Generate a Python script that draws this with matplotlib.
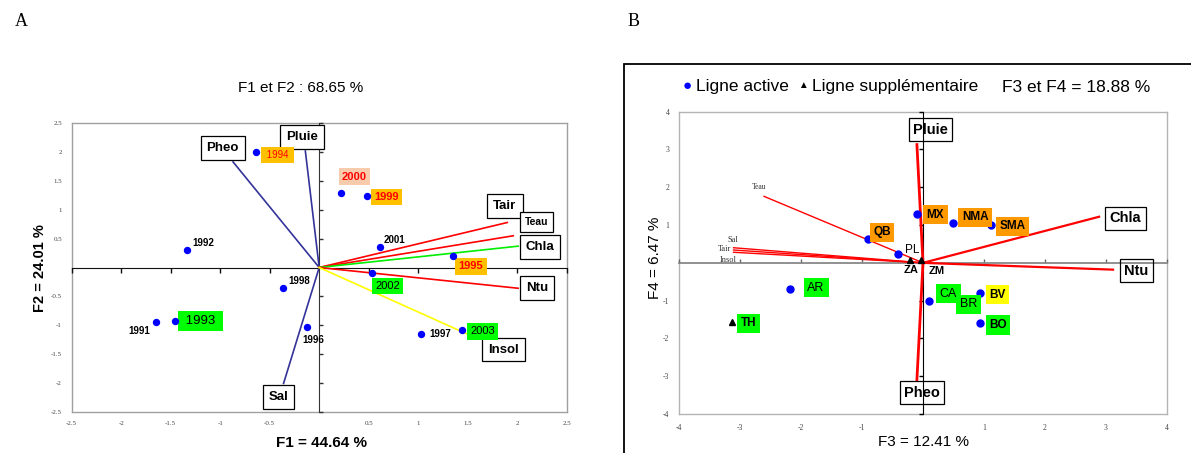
import matplotlib.pyplot as plt
from matplotlib.patches import Rectangle

plt.rcParams['font.family'] = ['Liberation Sans', 'DejaVu Sans']

W, H = 1191, 453

# ---------- panel A : F1 x F2 ----------
years = ['1991', '1992', '1993', '1994', '1995', '1996', '1997',
         '1998', '1999', '2000', '2001', '2002', '2003']
f1 = [-1.65, -1.34, -1.46, -0.64, 1.35, -0.12, 1.03,
      -0.37, 0.48, 0.22, 0.61, 0.53, 1.44]
f2 = [-0.94, 0.31, -0.92, 2.01, 0.20, -1.04, -1.16,
      -0.36, 1.24, 1.30, 0.36, -0.09, -1.08]

vars_a = ['Pheo', 'Pluie', 'Sal', 'Tair', 'Teau', 'Chla', 'Ntu', 'Insol']
vec_f1 = [-0.87, -0.14, -0.36, 1.90, 1.96, 2.01, 2.01, 1.49]
vec_f2 = [1.83, 2.02, -2.01, 0.78, 0.55, 0.37, -0.36, -1.15]

# ---------- panel B : F3 x F4 ----------
sites = ['QB', 'PL', 'MX', 'NMA', 'SMA', 'AR', 'CA', 'BR', 'BV', 'BO']
f3 = [-0.91, -0.41, -0.10, 0.50, 1.12, -2.18, 0.10, 0.75, 0.94, 0.94]
f4 = [0.63, 0.24, 1.30, 1.06, 1.01, -0.69, -1.00, -1.10, -0.80, -1.60]

sites_sup = ['ZA', 'ZM', 'TH']
f3_sup = [-0.21, -0.03, -3.14]
f4_sup = [0.07, 0.07, -1.57]

vars_b = ['Pluie', 'Pheo', 'Chla', 'Ntu', 'Teau', 'Sal', 'Tair', 'Insol']
vec_f3 = [-0.10, -0.10, 2.89, 3.12, -2.61, -3.11, -3.11, -3.11]
vec_f4 = [3.13, -3.09, 1.22, -0.18, 1.76, 0.40, 0.34, 0.28]

# label styling: (offset pts, facecolor, text colour, weight, size)
ORANGE = '#ffc000'
year_style = {
    '1991': ((-12, -7), None, 'black', 'bold', 7),
    '1992': ((12, 4.6), None, 'black', 'bold', 7),
    '1993': ((18.5, 0), '#00ff00', 'black', 'normal', 9.5),
    '1994': ((15.7, -2.7), ORANGE, 'red', 'normal', 7),
    '1995': ((13, -7.5), ORANGE, 'red', 'bold', 8),
    '1996': ((4, -9), None, 'black', 'bold', 7),
    '1997': ((13.7, 0), None, 'black', 'bold', 7),
    '1998': ((11.8, 5.3), None, 'black', 'bold', 7),
    '1999': ((14.5, -0.7), ORANGE, 'red', 'bold', 8),
    '2000': ((9.7, 11.5), '#f8cbad', 'red', 'bold', 8),
    '2001': ((10.8, 4.9), None, 'black', 'bold', 7),
    '2002': ((11.5, -9.5), '#00ff00', 'black', 'normal', 8),
    '2003': ((14.8, -1), '#00ff00', 'black', 'normal', 8),
}
var_a_style = {
    'Pheo': ((-7.4, 10.1), '#333399', 9.5),
    'Pluie': ((-2.2, 10.1), '#333399', 9.5),
    'Sal': ((-3.6, -9.8), '#333399', 9.5),
    'Tair': ((-1.7, 12), 'red', 9.5),
    'Teau': ((16.8, 9.9), 'red', 7.5),
    'Chla': ((15.6, -0.5), '#00ee00', 9.5),
    'Ntu': ((13.5, 0), 'red', 9.5),
    'Insol': ((26.6, -11.3), 'yellow', 9.5),
}
site_style = {
    'QB': ((10.4, 4.9), '#ff9900', 'bold', 8.5),
    'PL': ((9.9, 2.6), None, 'normal', 8.5),
    'MX': ((13.2, -0.7), '#ff9900', 'bold', 8.5),
    'NMA': ((15.6, 4), '#ff9900', 'bold', 8.5),
    'SMA': ((15.5, -1.1), '#ff9900', 'bold', 8.5),
    'AR': ((18.7, 0.9), '#00ff00', 'normal', 9),
    'CA': ((14, 5), '#00ff00', 'normal', 9),
    'BR': ((0, 0), '#00ff00', 'normal', 9),
    'BV': ((12.4, -1.2), '#ffff00', 'bold', 8.5),
    'BO': ((12.7, -1.2), '#00ff00', 'bold', 8.5),
    'ZA': ((0.7, -7.2), None, 'bold', 8),
    'ZM': ((11.3, -7.9), None, 'bold', 8),
    'TH': ((12.1, -0.9), '#00ff00', 'bold', 8.5),
}
var_b_style = {
    'Pluie': ((9.9, 10.8), 2.0, 'box', 10.5),
    'Pheo': ((3.6, -9.4), 2.0, 'box', 10.5),
    'Chla': ((18.9, -1), 1.6, 'box', 10.5),
    'Ntu': ((16.7, -0.7), 1.6, 'box', 10.5),
    'Teau': ((-3.4, 6.8), 1.0, 'center', 5.5),
    'Sal': ((3.4, 5.5), 1.0, 'right', 6),
    'Tair': ((-1.9, 0.9), 1.0, 'right', 6),
    'Insol': ((2.4, -5.3), 1.0, 'right', 6),
}


def frame_axes(rect, lim, step, tick_size, frame_col):
    ax = fig.add_axes(rect)
    ax.set_xlim(-lim, lim)
    ax.set_ylim(-lim, lim)
    ticks = [i * step - lim for i in range(int(round(2 * lim / step)) + 1)]
    ax.set_xticks(ticks)
    ax.set_yticks(ticks)
    ax.set_xticklabels(['%g' % t for t in ticks])
    ax.set_yticklabels(['%g' % t for t in ticks])
    ax.tick_params(length=0, pad=7, labelsize=tick_size, labelcolor='#444444')
    for lab in ax.get_xticklabels() + ax.get_yticklabels():
        lab.set_family(['Liberation Serif', 'DejaVu Serif'])
    for s in ax.spines.values():
        s.set_color(frame_col)
        s.set_linewidth(1.0)
    # overlay with cross axes at zero
    axc = fig.add_axes(rect, sharex=ax, sharey=ax)
    axc.patch.set_visible(False)
    axc.spines['left'].set_position('zero')
    axc.spines['bottom'].set_position('zero')
    axc.spines['top'].set_visible(False)
    axc.spines['right'].set_visible(False)
    axc.tick_params(labelleft=False, labelbottom=False)
    return ax, axc


fig = plt.figure(figsize=(W / 100, H / 100), dpi=100)

fig.text(15 / W, 1 - 22 / H, 'A', family=['Liberation Serif'], fontsize=13, va='center')
fig.text(628 / W, 1 - 22 / H, 'B', family=['Liberation Serif'], fontsize=13, va='center')

# ---- A ----
axA, ca = frame_axes([71.7 / W, 1 - 411.7 / H, 495 / W, 288.4 / H], 2.5, 0.5, 5, '#a0a0a0')
ca.spines['left'].set_color('#333333')
ca.spines['bottom'].set_color('#111111')
ca.tick_params(axis='x', direction='out', length=3.5, width=1, color='#111111')
ca.tick_params(axis='y', direction='in', length=3, width=1, color='#333333')
ca.set_xticks([t for t in axA.get_xticks() if t != 0])
ca.set_yticks([t for t in axA.get_yticks() if t != 0])

for name, x, y in zip(vars_a, vec_f1, vec_f2):
    off, col, fs = var_a_style[name]
    ca.plot([0, x], [0, y], color=col, lw=1.2, zorder=3)
    ca.annotate(name, (x, y), xytext=off, textcoords='offset points',
                ha='center', va='center', fontsize=fs, fontweight='bold', zorder=5,
                bbox=dict(boxstyle='square,pad=0.45', fc='white', ec='black', lw=0.9))

ca.plot(f1, f2, 'o', color='#0000ff', ms=4.3, zorder=6)
for name, x, y in zip(years, f1, f2):
    off, fc, tc, fw, fs = year_style[name]
    box = None
    txt = name
    if fc is not None:
        box = dict(boxstyle='square,pad=0.3', fc=fc, ec='none')
        if fc == ORANGE and fw == 'normal' or name == '1993':
            txt = ' ' + name + ' '
    ca.annotate(txt, (x, y), xytext=off, textcoords='offset points', ha='center',
                va='center', fontsize=fs, fontweight=fw, color=tc, bbox=box, zorder=5)

fig.text(301 / W, 1 - 88 / H, 'F1 et F2 : 68.65 %', ha='center', va='center', fontsize=11)
fig.text(322 / W, 1 - 443 / H, 'F1 = 44.64 %', ha='center', va='center',
         fontsize=11, fontweight='bold')
fig.text(40 / W, 1 - 268 / H, 'F2 = 24.01 %', ha='center', va='center',
         fontsize=10.5, fontweight='bold', rotation=90)

# ---- B ----
fig.add_artist(Rectangle((624 / W, -0.1), 0.6, 0.1 + 1 - 64 / H, transform=fig.transFigure,
                         fill=False, ec='black', lw=1.3))

axB, cb = frame_axes([679.3 / W, 1 - 414 / H, 487.4 / W, 302.3 / H], 4, 1, 5.5, '#b4b4b4')
cb.spines['left'].set_color('black')
cb.spines['bottom'].set_color('#888888')
cb.spines['bottom'].set_linewidth(1.3)
cb.tick_params(axis='x', direction='in', length=3, width=1, color='#666666')
cb.tick_params(axis='y', direction='out', length=3, width=1, color='black')
cb.set_xticks([t for t in axB.get_xticks() if t != 0])
cb.set_yticks([t for t in axB.get_yticks() if t != 0])

for name, x, y in zip(vars_b, vec_f3, vec_f4):
    off, lw, kind, fs = var_b_style[name]
    cb.plot([0, x], [0, y], color='red', lw=lw, zorder=3)
    if kind == 'box':
        cb.annotate(name, (x, y), xytext=off, textcoords='offset points', ha='center',
                    va='center', fontsize=fs, fontweight='bold', zorder=5,
                    bbox=dict(boxstyle='square,pad=0.3', fc='none', ec='black', lw=0.9))
    else:
        cb.annotate(name, (x, y), xytext=off, textcoords='offset points', ha=kind,
                    va='center', fontsize=fs, color='#333333', zorder=5,
                    family=['Liberation Serif', 'DejaVu Serif'])

cb.plot(f3, f4, 'o', color='#0000ff', ms=5, zorder=4)
cb.plot(f3_sup, f4_sup, '^', color='black', ms=4.5, zorder=4)
for name, x, y in zip(sites + sites_sup, f3 + f3_sup, f4 + f4_sup):
    off, fc, fw, fs = site_style[name]
    box = None if fc is None else dict(boxstyle='square,pad=0.3', fc=fc, ec='none')
    cb.annotate(name, (x, y), xytext=off, textcoords='offset points', ha='center',
                va='center', fontsize=fs, fontweight=fw, color='black', bbox=box, zorder=5)

# legend / title row
fig.text(687 / W, 1 - 86 / H, '\u25cf', color='#0000ff', fontsize=11, ha='center', va='center')
fig.text(696 / W, 1 - 87 / H, 'Ligne active', fontsize=12.5, va='center')
fig.text(803 / W, 1 - 85 / H, '\u25b2', color='black', fontsize=7, ha='center', va='center')
fig.text(812 / W, 1 - 87 / H, 'Ligne suppl\u00e9mentaire', fontsize=12.5, va='center')
fig.text(1002 / W, 1 - 87 / H, 'F3 et F4 = 18.88 %', fontsize=12.5, va='center')

fig.text(923 / W, 1 - 442 / H, 'F3 = 12.41 %', ha='center', va='center', fontsize=11)
fig.text(655 / W, 1 - 258 / H, 'F4 = 6.47 %', ha='center', va='center',
         fontsize=11, rotation=90)

fig.savefig('out.png', dpi=100)
